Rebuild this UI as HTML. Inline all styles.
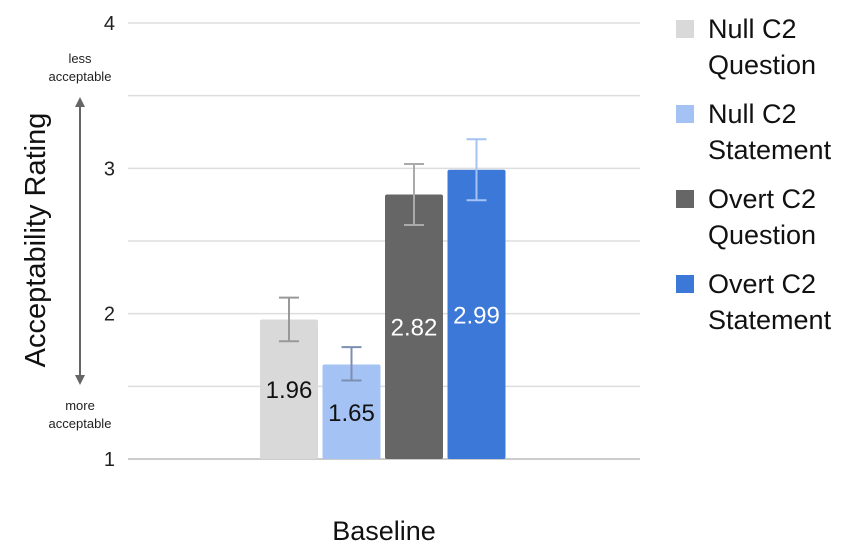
<!DOCTYPE html>
<html><head><meta charset="utf-8"><style>
body{margin:0;background:#fff;}
svg{display:block;font-family:"Liberation Sans",Arial,sans-serif;}
</style></head><body>
<svg id="chart" width="850" height="552" viewBox="0 0 850 552">
<g id="grid"></g>
<g id="bars"></g>
<g id="legend"></g>
<text x="45" y="240" font-size="29" fill="#111" text-anchor="middle" transform="rotate(-90 45 240)">Acceptability Rating</text>
<text x="80" y="63" font-size="13" fill="#222" text-anchor="middle">less</text>
<text x="80" y="81" font-size="13" fill="#222" text-anchor="middle">acceptable</text>
<text x="80" y="410" font-size="13" fill="#222" text-anchor="middle">more</text>
<text x="80" y="428" font-size="13" fill="#222" text-anchor="middle">acceptable</text>
<line x1="80" y1="104" x2="80" y2="378" stroke="#666" stroke-width="2"/>
<polygon points="80,97 75,107 85,107" fill="#666"/>
<polygon points="80,385 75,375 85,375" fill="#666"/>
<text x="384" y="540" font-size="27" fill="#111" text-anchor="middle">Baseline</text>
</svg>
<script>
const series = ["Null C2|Question","Null C2|Statement","Overt C2|Question","Overt C2|Statement"];
const values = [1.96,1.65,2.82,2.99];
const errLow = [1.81,1.54,2.61,2.78];
const errHigh = [2.11,1.77,3.03,3.20];
const yTicks = [1,2,3,4];
const colors = ["#d9d9d9","#a4c2f4","#666666","#3c78d8"];
const labelColors = ["#111","#111","#fff","#fff"];
const errColors = ["#999","#7b8fb0","#aaa","#a4c2f4"];
const NS="http://www.w3.org/2000/svg";
const y0=459,yTop=23,vmin=1,vmax=4;
function y(v){return y0-(v-vmin)/(vmax-vmin)*(y0-yTop);}
function mk(t,a,p){const e=document.createElementNS(NS,t);for(const k in a)e.setAttribute(k,a[k]);p.appendChild(e);return e;}
const grid=document.getElementById('grid');
for(let v=vmin;v<=vmax+1e-9;v+=0.5){
  const l=mk('line',{x1:128,x2:640,y1:y(v),y2:y(v),stroke:v===vmin?'#bbb':'#ddd','stroke-width':1.5},grid);
  
  
}
yTicks.forEach(v=>{
  const t=mk('text',{x:115,y:y(v)+7,'font-size':20,'text-anchor':'end',fill:'#222'},grid);
  t.textContent=v;
  
  
});
const bars=document.getElementById('bars');
const bx0=260,step=62.5,bw=58;
values.forEach((v,i)=>{
  const x=bx0+i*step;
  const r=mk('rect',{x:x,y:y(v),width:bw,height:y0-y(v),fill:colors[i],rx:2},bars);
  
  
  const cx=x+bw/2;
  const g=mk('g',{stroke:errColors[i],'stroke-width':2},bars);
  
  
  mk('line',{x1:cx,x2:cx,y1:y(errHigh[i]),y2:y(errLow[i])},g);
  mk('line',{x1:cx-10,x2:cx+10,y1:y(errHigh[i]),y2:y(errHigh[i])},g);
  mk('line',{x1:cx-10,x2:cx+10,y1:y(errLow[i]),y2:y(errLow[i])},g);
  const t=mk('text',{x:cx,y:(y(v)+y0)/2+9,'font-size':24,'text-anchor':'middle',fill:labelColors[i]},bars);
  t.textContent=v.toFixed(2);
  
  
});
const lg=document.getElementById('legend');
series.forEach((s,i)=>{
  const cy=29+i*85;
  const r=mk('rect',{x:676,y:cy-9,width:18,height:18,fill:colors[i]},lg);
  
  
  const parts=s.split('|');
  parts.forEach((p,j)=>{
    const t=mk('text',{x:708,y:cy+9+j*36,'font-size':27,fill:'#111'},lg);
    t.textContent=p;
    
    
  });
});
</script>
</body></html>
